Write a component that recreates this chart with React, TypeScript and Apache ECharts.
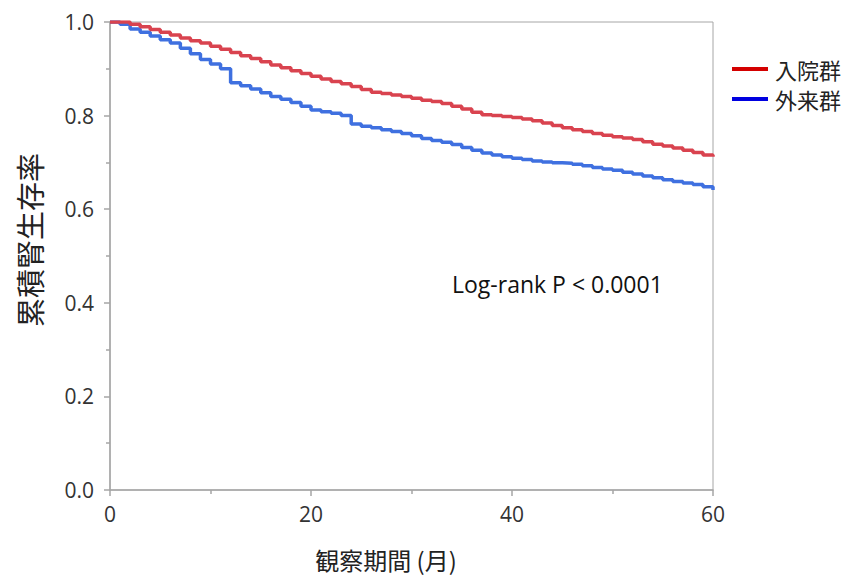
import React, { useEffect, useRef } from "react";
import * as echarts from "echarts";

// Follow-up months (step times)
const months: number[] = Array.from({ length: 61 }, (_, i) => i);

// Cumulative renal survival, inpatient group
const inpatient: number[] = [
  1.0, 1.0, 0.995, 0.99, 0.984, 0.978, 0.972, 0.966, 0.96, 0.955,
  0.948, 0.942, 0.935, 0.928, 0.922, 0.915, 0.908, 0.902, 0.896, 0.89,
  0.884, 0.878, 0.873, 0.868, 0.862, 0.856, 0.85, 0.847, 0.844, 0.841,
  0.837, 0.833, 0.83, 0.826, 0.82, 0.814, 0.807, 0.802, 0.8, 0.798,
  0.796, 0.793, 0.789, 0.784, 0.779, 0.774, 0.77, 0.766, 0.762, 0.758,
  0.755, 0.752, 0.749, 0.744, 0.739, 0.735, 0.731, 0.726, 0.721, 0.716,
  0.712,
];

// Cumulative renal survival, outpatient group
const outpatient: number[] = [
  1.0, 0.995, 0.985, 0.978, 0.97, 0.962, 0.955, 0.944, 0.932, 0.92,
  0.91, 0.9, 0.87, 0.864, 0.857, 0.849, 0.841, 0.835, 0.828, 0.82,
  0.812, 0.808, 0.805, 0.8, 0.782, 0.777, 0.774, 0.77, 0.766, 0.762,
  0.757, 0.751, 0.747, 0.743, 0.738, 0.732, 0.726, 0.72, 0.716, 0.712,
  0.709, 0.706, 0.703, 0.701, 0.699, 0.698, 0.696, 0.693, 0.689, 0.686,
  0.683, 0.679, 0.675, 0.671, 0.667, 0.663, 0.659, 0.656, 0.653, 0.648,
  0.641,
];

const groupNames = ["入院群", "外来群"];
const xTicks = [0, 20, 40, 60];
const yTicks = [0, 0.2, 0.4, 0.6, 0.8, 1.0];

const axisGray = "#a6a6a6";
const labelColor = "#333333";
const latin = "'Open Sans', 'Noto Sans', sans-serif";
const cjk = "'Noto Sans CJK JP', 'Noto Sans', sans-serif";

export default function App() {
  const ref = useRef<HTMLDivElement>(null);

  useEffect(() => {
    if (!ref.current) return;
    const chart = echarts.init(ref.current, undefined, { renderer: "svg" });

    const toPairs = (vals: number[]) => months.map((m, i) => [m, vals[i]]);

    chart.setOption({
      animation: false,
      backgroundColor: "#ffffff",
      grid: {
        left: 110,
        top: 22,
        width: 603,
        height: 468,
        show: true,
        borderColor: axisGray,
        borderWidth: 1,
        backgroundColor: "transparent",
      },
      xAxis: {
        type: "value",
        min: xTicks[0],
        max: xTicks[xTicks.length - 1],
        interval: 20,
        axisLine: { show: true, lineStyle: { color: axisGray, width: 1.5 } },
        axisTick: { show: true, length: 6, lineStyle: { color: axisGray, width: 1.5 } },
        minorTick: { show: true, splitNumber: 2, length: 4, lineStyle: { color: axisGray, width: 1.5 } },
        splitLine: { show: false },
        axisLabel: {
          color: labelColor,
          fontSize: 21,
          fontFamily: latin,
          margin: 13,
        },
      },
      yAxis: {
        type: "value",
        min: yTicks[0],
        max: yTicks[yTicks.length - 1],
        interval: 0.2,
        axisLine: { show: true, lineStyle: { color: axisGray, width: 1.5 } },
        axisTick: { show: true, length: 6, lineStyle: { color: axisGray, width: 1.5 } },
        minorTick: { show: true, splitNumber: 2, length: 4, lineStyle: { color: axisGray, width: 1.5 } },
        splitLine: { show: false },
        axisLabel: {
          color: labelColor,
          fontSize: 21,
          fontFamily: latin,
          margin: 16,
          formatter: (v: number) => v.toFixed(1),
        },
      },
      legend: {
        orient: "vertical",
        left: 727,
        top: 53,
        itemWidth: 36,
        itemHeight: 4,
        itemGap: 8,
        textStyle: { fontSize: 22, color: "#222222", fontFamily: cjk, padding: [0, 0, 0, 2] },
        data: [
          { name: groupNames[0], icon: "rect", itemStyle: { color: "#d40000" } },
          { name: groupNames[1], icon: "rect", itemStyle: { color: "#0000e0" } },
        ],
      },
      series: [
        {
          name: groupNames[0],
          type: "line",
          step: "end",
          showSymbol: false,
          data: toPairs(inpatient),
          lineStyle: { color: "#d9434f", width: 3.5 },
          itemStyle: { color: "#d9434f" },
          z: 3,
        },
        {
          name: groupNames[1],
          type: "line",
          step: "end",
          showSymbol: false,
          data: toPairs(outpatient),
          lineStyle: { color: "#3f70e0", width: 3.5 },
          itemStyle: { color: "#3f70e0" },
          z: 2,
        },
      ],
      graphic: [
        {
          type: "text",
          x: 452,
          y: 284,
          style: {
            text: "Log-rank P < 0.0001",
            fill: "#111111",
            fontSize: 23,
            fontFamily: latin,
            verticalAlign: "middle",
          },
        },
        {
          type: "text",
          x: 386,
          y: 559,
          style: {
            text: "観察期間 (月)",
            fill: "#222222",
            fontSize: 24,
            fontFamily: cjk,
            align: "center",
            verticalAlign: "middle",
          },
        },
        {
          type: "text",
          x: 29,
          y: 240,
          rotation: Math.PI / 2,
          style: {
            text: "累積腎生存率",
            fill: "#222222",
            fontSize: 29,
            fontFamily: cjk,
            align: "center",
            verticalAlign: "middle",
          },
        },
      ],
    });

    return () => chart.dispose();
  }, []);

  return (
    <div
      ref={ref}
      style={{ width: 847, height: 577, position: "absolute", left: 0, top: 0 }}
    />
  );
}
